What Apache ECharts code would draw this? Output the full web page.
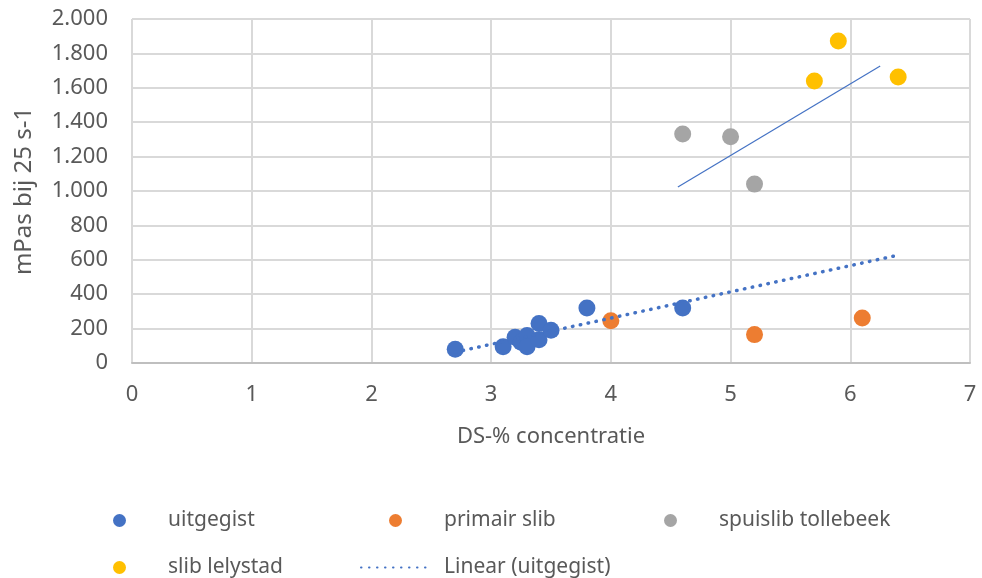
<!DOCTYPE html>
<html>
<head>
<meta charset="utf-8">
<script src="https://cdn.jsdelivr.net/npm/echarts@6/dist/echarts.min.js"></script>
<style>html,body{margin:0;padding:0;background:#fff}#c{width:982px;height:578px}</style>
</head>
<body>
<div id="c"></div>
<script>
var uitgegist = [[2.7,80],[3.1,95],[3.2,150],[3.25,120],[3.3,160],[3.3,95],[3.4,135],[3.4,230],[3.5,190],[3.8,320],[4.6,320]];
var primairSlib = [[4.0,245],[5.2,165],[6.1,262]];
var spuislibTollebeek = [[4.6,1332],[5.0,1315],[5.2,1040]];
var slibLelystad = [[5.7,1640],[5.9,1872],[6.4,1663]];
var linearUitgegist = [[2.7,63],[6.42,630]];
var extraLine = [[4.56,1023],[6.25,1727]];
var xTicks = [0,1,2,3,4,5,6,7];
var yTicks = [0,200,400,600,800,1000,1200,1400,1600,1800,2000];

var FONT = 'Noto Sans';
var TXT = '#595959';
function fmtY(v){ if (v < 1000) return String(v); var s = String(v); return s.slice(0, s.length-3) + '.' + s.slice(s.length-3); }

function legendAt(name, left, top, extra) {
  var l = {
    data: [name], left: left, top: top, padding: 0, itemWidth: 13, itemHeight: 15,
    textStyle: {color: TXT, fontFamily: FONT, fontSize: 21, padding: [0,0,0,37]},
    selectedMode: false
  };
  if (extra) for (var k in extra) l[k] = extra[k];
  return l;
}

var chart = echarts.init(document.getElementById('c'));
chart.setOption({
  animation: false,
  grid: {left: 132, right: 12, top: 19, bottom: 215},
  xAxis: {
    type: 'value', min: xTicks[0], max: xTicks[xTicks.length-1], interval: 1,
    name: 'DS-% concentratie', nameLocation: 'middle', nameGap: 63,
    nameTextStyle: {color: TXT, fontFamily: FONT, fontSize: 22},
    axisLine: {show: true, lineStyle: {color: '#bfbfbf', width: 2}},
    axisTick: {show: false},
    axisLabel: {color: TXT, fontFamily: FONT, fontSize: 22, margin: 21},
    splitLine: {show: true, lineStyle: {color: '#d9d9d9', width: 2}}
  },
  yAxis: {
    type: 'value', min: yTicks[0], max: yTicks[yTicks.length-1], interval: 200,
    name: 'mPas bij 25 s-1', nameLocation: 'middle', nameGap: 96,
    nameTextStyle: {color: TXT, fontFamily: FONT, fontSize: 24},
    axisLine: {show: false}, axisTick: {show: false},
    axisLabel: {color: TXT, fontFamily: FONT, fontSize: 22, margin: 24, formatter: fmtY},
    splitLine: {show: true, lineStyle: {color: '#d9d9d9', width: 2}}
  },
  legend: [
    legendAt('uitgegist', 113, 510),
    legendAt('primair slib', 389, 510),
    legendAt('spuislib tollebeek', 664, 510),
    legendAt('slib lelystad', 113, 557),
    legendAt('Linear (uitgegist)', 360, 557, {itemWidth: 70, itemStyle: {opacity: 0},
      textStyle: {color: TXT, fontFamily: FONT, fontSize: 21, padding: [0,0,0,8]}})
  ],
  series: [
    {name: 'uitgegist', type: 'scatter', data: uitgegist, symbolSize: 17, itemStyle: {color: '#4472C4', opacity: 1}},
    {name: 'primair slib', type: 'scatter', data: primairSlib, symbolSize: 17, itemStyle: {color: '#ED7D31', opacity: 1}},
    {name: 'spuislib tollebeek', type: 'scatter', data: spuislibTollebeek, symbolSize: 17, itemStyle: {color: '#A5A5A5', opacity: 1}},
    {name: 'slib lelystad', type: 'scatter', data: slibLelystad, symbolSize: 17, itemStyle: {color: '#FFC000', opacity: 1}},
    {name: 'Linear (uitgegist)', type: 'line', data: linearUitgegist, symbol: 'none', z: 5,
     lineStyle: {color: '#4472C4', width: 3.5, type: [0.5, 7.5], cap: 'round'}},
    {name: 'trend', type: 'line', data: extraLine, symbol: 'none', z: 5,
     lineStyle: {color: '#4472C4', width: 1.2}}
  ]
});
</script>
</body>
</html>
